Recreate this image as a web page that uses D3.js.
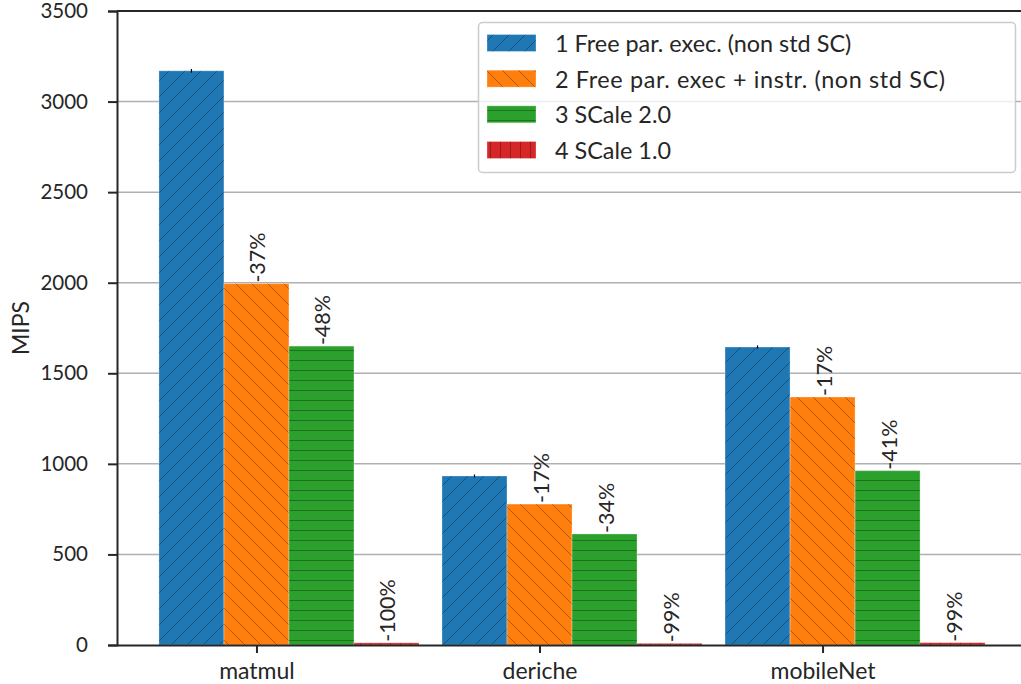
<!DOCTYPE html>
<html>
<head>
<meta charset="utf-8">
<script src="https://cdn.jsdelivr.net/npm/d3@7"></script>
<style>
  html, body { margin: 0; padding: 0; background: #fff; }
  svg { display: block; }
  text { font-family: "Lato", "Open Sans", sans-serif; fill: #262626; }
</style>
</head>
<body>
<svg id="chart" width="1021" height="684"></svg>
<script>
// ---------- data ----------
const categories = ["matmul", "deriche", "mobileNet"];
const seriesNames = [
  "1 Free par. exec. (non std SC)",
  "2 Free par. exec + instr. (non std SC)",
  "3 SCale 2.0",
  "4 SCale 1.0"
];
const freePar = [3170, 933, 1645];
const freeParInstr = [1995, 778, 1369];
const scale20 = [1650, 613, 962];
const scale10 = [12, 9, 13];
const errFreePar = [10, 8, 9];
const labelsInstr = ["-37%", "-17%", "-17%"];
const labelsScale20 = ["-48%", "-34%", "-41%"];
const labelsScale10 = ["-100%", "-99%", "-99%"];
const yTicks = [0, 500, 1000, 1500, 2000, 2500, 3000, 3500];

const series = [freePar, freeParInstr, scale20, scale10];
const seriesLabels = [null, labelsInstr, labelsScale20, labelsScale10];
const seriesErr = [errFreePar, null, null, null];
const colors = ["#1f77b4", "#ff7f0e", "#2ca02c", "#d62728"];
const hatchIds = ["hatch-ne", "hatch-nw", "hatch-h", "hatch-v"];

// ---------- layout ----------
const svg = d3.select("#chart");
const mLeft = 117, mRight = 1027, mTop = 11, mBottom = 645;
const barW = 0.2297;

const x = d3.scaleLinear().domain([-0.263, 2.952]).range([mLeft, mRight]);
const y = d3.scaleLinear().domain([0, 3500]).range([mBottom, mTop]);

// ---------- hatch patterns ----------
const defs = svg.append("defs");
const hs = "rgba(0,0,0,0.3)";
const P = 16;
let p = defs.append("pattern").attr("id", "hatch-ne").attr("patternUnits", "userSpaceOnUse")
  .attr("width", P).attr("height", P);
p.append("path").attr("d", `M0,${P} L${P},0 M${-P/2},${P/2} L${P/2},${-P/2} M${P/2},${P*1.5} L${P*1.5},${P/2}`)
  .attr("stroke", hs).attr("stroke-width", 1).attr("fill", "none");
p = defs.append("pattern").attr("id", "hatch-nw").attr("patternUnits", "userSpaceOnUse")
  .attr("width", P).attr("height", P);
p.append("path").attr("d", `M0,0 L${P},${P} M${-P/2},${P/2} L${P/2},${P*1.5} M${P/2},${-P/2} L${P*1.5},${P/2}`)
  .attr("stroke", hs).attr("stroke-width", 1).attr("fill", "none");
p = defs.append("pattern").attr("id", "hatch-h").attr("patternUnits", "userSpaceOnUse")
  .attr("width", 10).attr("height", 10);
p.append("path").attr("d", "M0,0.5 L10,0.5").attr("stroke", hs).attr("stroke-width", 1);
p = defs.append("pattern").attr("id", "hatch-v").attr("patternUnits", "userSpaceOnUse")
  .attr("width", 10).attr("height", 10);
p.append("path").attr("d", "M0.5,0 L0.5,10").attr("stroke", hs).attr("stroke-width", 1);

// ---------- grid ----------
svg.append("g").selectAll("line").data(yTicks.slice(1)).join("line")
  .attr("x1", mLeft).attr("x2", mRight)
  .attr("y1", d => y(d)).attr("y2", d => y(d))
  .attr("stroke", "#b0b0b0").attr("stroke-width", 1.5);

// ---------- bars ----------
const barsG = svg.append("g");
series.forEach((vals, j) => {
  const g = barsG.append("g");
  const data = vals.map((v, i) => ({ i, v }));
  const xl = d => x(d.i + (j - 0.5) * barW);
  const wpx = x(barW) - x(0);
  g.selectAll("rect.fill").data(data).join("rect")
    .attr("x", xl).attr("width", wpx)
    .attr("y", d => y(d.v)).attr("height", d => y(0) - y(d.v))
    .attr("fill", colors[j]);
  g.selectAll("rect.hatch").data(data).join("rect")
    .attr("x", xl).attr("width", wpx)
    .attr("y", d => y(d.v)).attr("height", d => y(0) - y(d.v))
    .attr("fill", `url(#${hatchIds[j]})`)
    .attr("stroke", "rgba(255,255,255,0.3)").attr("stroke-width", 1);
  if (seriesErr[j]) {
    g.selectAll("line.err").data(data).join("line")
      .attr("x1", d => x(d.i + j * barW)).attr("x2", d => x(d.i + j * barW))
      .attr("y1", d => y(d.v + seriesErr[j][d.i])).attr("y2", d => y(d.v - seriesErr[j][d.i]))
      .attr("stroke", "#000").attr("stroke-width", 1.2);
  }
  if (seriesLabels[j]) {
    g.selectAll("text.lbl").data(data).join("text")
      .attr("transform", d => `translate(${x(d.i + j * barW) + 1},${y(d.v) - 1}) rotate(-90)`)
      .attr("text-anchor", "start")
      .attr("dominant-baseline", "central")
      .style("font-size", "21.5px")
      .text(d => seriesLabels[j][d.i]);
  }
});

// ---------- axes ----------
const yAxis = d3.axisLeft(y).tickValues(yTicks).tickSize(9).tickPadding(20).tickFormat(d3.format("d"));
const yg = svg.append("g").attr("transform", `translate(${mLeft},0)`).call(yAxis);
yg.select(".domain").attr("stroke", "#262626").attr("stroke-width", 2);
yg.selectAll(".tick line").attr("stroke", "#262626").attr("stroke-width", 2);
yg.selectAll(".tick text").style("font-size", "20.5px").attr("fill", "#262626")
  .style("font-family", "Lato, 'Open Sans', sans-serif");

const xAxis = d3.axisBottom(x).tickValues(categories.map((c, i) => i + barW))
  .tickFormat((d, i) => categories[i]).tickSize(8).tickPadding(10).tickSizeOuter(0);
const xg = svg.append("g").attr("transform", `translate(0,${mBottom})`).call(xAxis);
xg.select(".domain").attr("stroke", "#262626").attr("stroke-width", 2);
xg.selectAll(".tick line").attr("stroke", "#262626").attr("stroke-width", 2);
xg.selectAll(".tick text").style("font-size", "23px").attr("fill", "#262626")
  .style("font-family", "Lato, 'Open Sans', sans-serif");

// top spine
svg.append("line").attr("x1", mLeft).attr("x2", mRight).attr("y1", mTop).attr("y2", mTop)
  .attr("stroke", "#262626").attr("stroke-width", 2);

// y label
svg.append("text").attr("transform", `translate(20,${(mTop + mBottom) / 2}) rotate(-90)`)
  .attr("text-anchor", "middle").attr("dominant-baseline", "central")
  .style("font-size", "23px").text("MIPS");

// ---------- legend ----------
const lg = svg.append("g");
lg.append("rect").attr("x", 478.5).attr("y", 22.5).attr("width", 537).attr("height", 150)
  .attr("rx", 4).attr("fill", "rgba(255,255,255,0.8)").attr("stroke", "#cccccc").attr("stroke-width", 1.5);
const rowY = d3.scalePoint().domain(seriesNames).range([43, 150]);
seriesNames.forEach((name, j) => {
  const cy = rowY(name);
  lg.append("rect").attr("x", 487).attr("y", cy - 8.5).attr("width", 49).attr("height", 17)
    .attr("fill", colors[j]);
  lg.append("rect").attr("x", 487).attr("y", cy - 8.5).attr("width", 49).attr("height", 17)
    .attr("fill", `url(#${hatchIds[j]})`).attr("stroke", "rgba(255,255,255,0.3)");
  const t = lg.append("text").attr("x", 555).attr("y", cy).attr("dominant-baseline", "central")
    .style("font-size", "23.4px").text(name);
  if (name.includes("+")) t.attr("textLength", 390).attr("lengthAdjust", "spacing");
});
</script>
</body>
</html>
